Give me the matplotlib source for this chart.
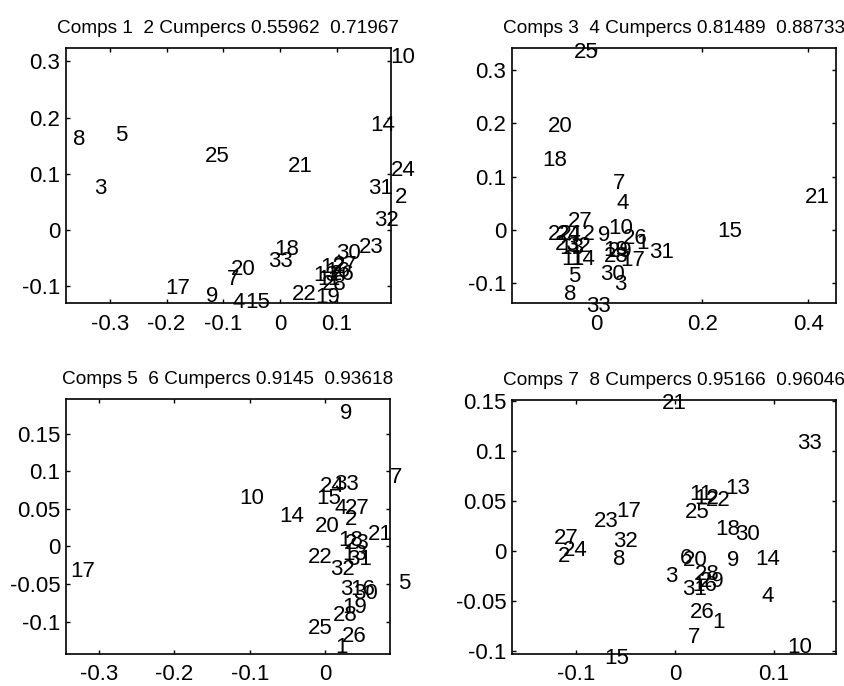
import matplotlib
matplotlib.use("Agg")
import matplotlib.pyplot as plt
import matplotlib.transforms as mtransforms

plt.rcParams['font.family'] = ['Liberation Sans', 'DejaVu Sans']

# ---------------- data ----------------
titles = ["Comps 1  2 Cumpercs 0.55962  0.71967",
          "Comps 3  4 Cumpercs 0.81489  0.88733",
          "Comps 5  6 Cumpercs 0.9145  0.93618",
          "Comps 7  8 Cumpercs 0.95166  0.96046"]

labels1 = ["10", "8", "5", "3", "25", "21", "14", "24", "31", "2", "32", "23", "30",
           "18", "33", "20", "7", "17", "9", "4", "15", "22", "19",
           "13", "12", "27", "26", "28", "11", "16"]
x1 = [0.193, -0.364, -0.290, -0.327, -0.133, 0.013, 0.158, 0.195, 0.154, 0.202, 0.165,
      0.138, 0.098, -0.011, -0.022, -0.087, -0.094, -0.202, -0.130, -0.084, -0.061,
      0.020, 0.061, 0.059, 0.071, 0.093, 0.087, 0.073, 0.066, 0.080]
y1 = [0.311, 0.165, 0.171, 0.077, 0.135, 0.116, 0.190, 0.110, 0.077, 0.062, 0.020,
      -0.028, -0.039, -0.032, -0.052, -0.066, -0.084, -0.100, -0.114, -0.126, -0.126,
      -0.112, -0.116, -0.077, -0.064, -0.060, -0.075, -0.093, -0.085, -0.071]

labels2 = ["25", "20", "18", "7", "4", "21", "15", "27", "22", "24", "12", "9", "10",
           "26", "1", "31", "23", "32", "13", "11", "14", "19", "29", "28", "17", "5",
           "30", "3", "8", "33"]
x2 = [-0.042, -0.091, -0.101, 0.032, 0.039, 0.394, 0.229, -0.053, -0.091, -0.074,
      -0.050, 0.003, 0.022, 0.050, 0.075, 0.099, -0.078, -0.057, -0.070, -0.067,
      -0.050, 0.013, 0.022, 0.015, 0.045, -0.053, 0.007, 0.033, -0.061, -0.019]
y2 = [0.336, 0.197, 0.133, 0.090, 0.053, 0.064, 0.000, 0.019, -0.004, -0.004,
      -0.004, -0.006, 0.006, -0.013, -0.021, -0.038, -0.024, -0.028, -0.032, -0.051,
      -0.051, -0.034, -0.036, -0.047, -0.053, -0.084, -0.079, -0.099, -0.118, -0.139]

labels3 = ["9", "7", "24", "33", "15", "10", "14", "4", "27", "2", "20", "21", "18",
           "23", "22", "13", "31", "32", "17", "5", "3", "16", "30", "19", "28", "25",
           "26", "1"]
x3 = [0.020, 0.086, -0.007, 0.012, -0.011, -0.114, -0.061, 0.013, 0.027, 0.027,
      -0.013, 0.057, 0.017, 0.027, -0.023, 0.023, 0.029, 0.007, -0.339, 0.097,
      0.020, 0.033, 0.037, 0.023, 0.011, -0.023, 0.023, 0.013]
y3 = [0.180, 0.095, 0.083, 0.085, 0.067, 0.066, 0.043, 0.053, 0.053, 0.038,
      0.029, 0.018, 0.010, 0.006, -0.012, -0.008, -0.015, -0.028, -0.031, -0.047,
      -0.055, -0.055, -0.060, -0.078, -0.089, -0.107, -0.117, -0.131]

labels4 = ["21", "33", "11", "13", "12", "22", "25", "17", "23", "18", "30", "27",
           "24", "2", "32", "8", "6", "20", "9", "14", "3", "28", "29", "16", "31",
           "4", "26", "1", "7", "10", "15"]
x4 = [-0.013, 0.124, 0.014, 0.051, 0.020, 0.031, 0.010, -0.059, -0.082, 0.041,
      0.061, -0.123, -0.113, -0.119, -0.063, -0.063, 0.005, 0.008, 0.053, 0.081,
      -0.010, 0.020, 0.025, 0.018, 0.007, 0.088, 0.015, 0.038, 0.013, 0.114, -0.072]
y4 = [0.149, 0.109, 0.058, 0.064, 0.054, 0.052, 0.040, 0.041, 0.031, 0.023,
      0.018, 0.014, 0.002, -0.004, 0.011, -0.007, -0.006, -0.008, -0.008, -0.007,
      -0.024, -0.022, -0.029, -0.033, -0.037, -0.044, -0.060, -0.070, -0.084,
      -0.094, -0.105]

xlims = [(-0.377, 0.195), (-0.159, 0.452), (-0.344, 0.0863), (-0.165, 0.163)]
ylims = [(-0.130, 0.324), (-0.137, 0.341), (-0.143, 0.196), (-0.103, 0.1507)]
xticks = [[-0.3, -0.2, -0.1, 0, 0.1], [0, 0.2, 0.4], [-0.3, -0.2, -0.1, 0], [-0.1, 0, 0.1]]
yticks = [[-0.1, 0, 0.1, 0.2, 0.3], [-0.1, 0, 0.1, 0.2, 0.3],
          [-0.1, -0.05, 0, 0.05, 0.1, 0.15], [-0.1, -0.05, 0, 0.05, 0.1, 0.15]]

# ---------------- plot ----------------
fig = plt.figure(figsize=(8.45, 6.86), dpi=100)
positions = [[0.0781, 0.5583, 0.3846, 0.3717],
             [0.6059, 0.5583, 0.3834, 0.3717],
             [0.0781, 0.0466, 0.3834, 0.3717],
             [0.6059, 0.0466, 0.3834, 0.3703]]

datasets = [(labels1, x1, y1), (labels2, x2, y2), (labels3, x3, y3), (labels4, x4, y4)]

def fmt(v):
    return "%g" % v

for i, (labs, xs, ys) in enumerate(datasets):
    ax = fig.add_axes(positions[i])
    ax.set_xlim(*xlims[i])
    ax.set_ylim(*ylims[i])
    ax.set_xticks(xticks[i])
    ax.set_yticks(yticks[i])
    ax.set_xticklabels([fmt(v) for v in xticks[i]])
    ax.set_yticklabels([fmt(v) for v in yticks[i]])
    ax.tick_params(direction='in', length=3, width=1.0, top=True, right=True,
                   labelsize=16, colors='black')
    ax.tick_params(axis='x', pad=8 if i < 2 else 7)
    ax.tick_params(axis='y', pad=4)
    for sp in ax.spines.values():
        sp.set_linewidth(1.2)
        sp.set_color('black')
    off = mtransforms.offset_copy(ax.transData, fig=fig, x=0, y=-2, units='dots')
    for lab, xv, yv in zip(labs, xs, ys):
        ax.text(xv, yv, lab, transform=off, ha='left', va='center',
                fontsize=16, clip_on=False, color='black')
    ax.set_title(titles[i], fontsize=13.7, pad=11)

fig.savefig("out.png", dpi=100, facecolor='white')
